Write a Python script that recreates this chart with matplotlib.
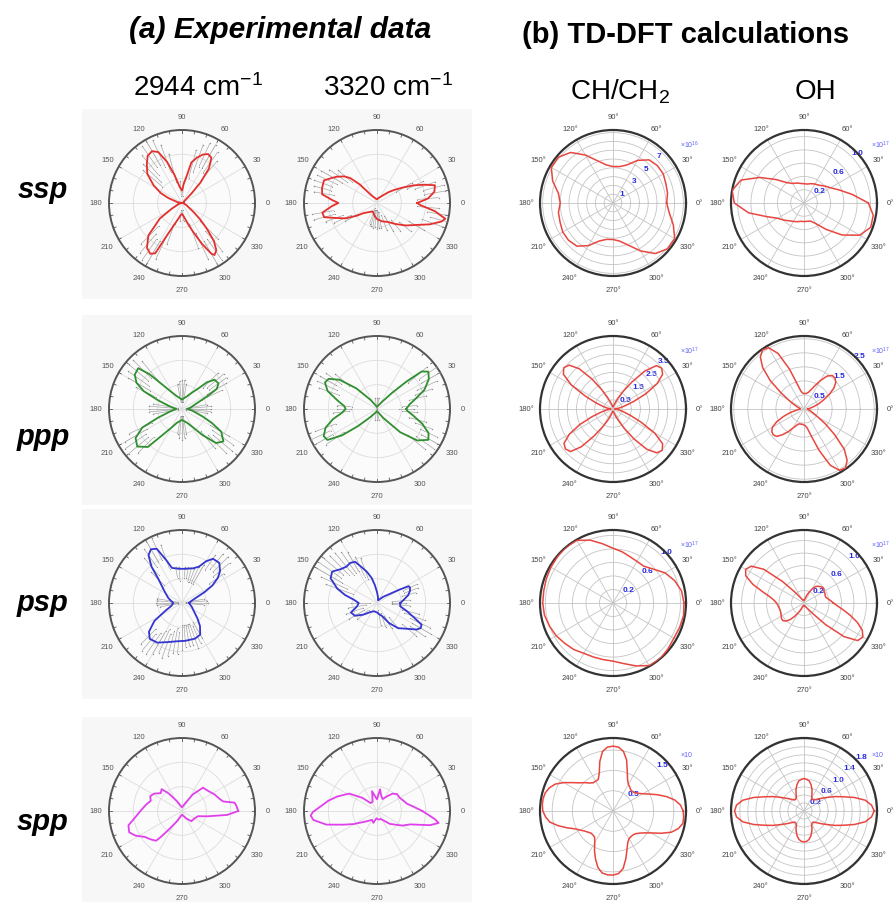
import numpy as np
import matplotlib
matplotlib.use("Agg")
import matplotlib.pyplot as plt
from matplotlib.patches import Rectangle

plt.rcParams['font.family'] = ['Liberation Sans', 'DejaVu Sans']
plt.rcParams['mathtext.fontset'] = 'custom'
plt.rcParams['mathtext.rm'] = 'Liberation Sans'
plt.rcParams['mathtext.it'] = 'Liberation Sans:italic'
plt.rcParams['mathtext.bf'] = 'Liberation Sans:bold'

W, H = 894, 903

# ---------------- experimental curves (angle in deg, r as fraction of outer ring)
th_ssp_2944 = [0, 10, 20, 30, 40, 45, 48, 52, 57, 62, 67, 72, 77, 80, 85, 90, 98, 105, 110, 115,
               120, 126, 132, 140, 148, 155, 160, 170, 180, 190, 200, 209, 215, 224, 232, 238, 242,
               245, 250, 257, 265, 270, 275, 281, 287, 291, 296, 300, 302, 306, 310, 314, 318, 322,
               333, 345, 355]
r_ssp_2944 = [0.0, 0.02, 0.03, 0.03, 0.04, 0.18, 0.38, 0.6, 0.74, 0.76, 0.72, 0.65, 0.57, 0.38, 0.26,
              0.17, 0.22, 0.4, 0.6, 0.77, 0.82, 0.8, 0.72, 0.62, 0.46, 0.32, 0.2, 0.06, 0.0, 0.03,
              0.06, 0.16, 0.37, 0.64, 0.78, 0.82, 0.78, 0.5, 0.32, 0.22, 0.16, 0.15, 0.17, 0.22, 0.32,
              0.42, 0.62, 0.8, 0.84, 0.8, 0.68, 0.49, 0.33, 0.2, 0.07, 0.03, 0.01]

th_ssp_3320 = [0, 5, 11, 17, 21, 26, 31, 37, 43, 57, 75, 90, 110, 125, 133, 137, 141, 147, 152, 157,
               165, 171, 176, 180, 184, 190, 195, 200, 206, 212, 217, 230, 243, 260, 270, 285, 300,
               311, 322, 331, 338, 344, 347, 352, 357]
r_ssp_3320 = [0.55, 0.7, 0.8, 0.83, 0.7, 0.55, 0.41, 0.3, 0.22, 0.11, 0.07, 0.05, 0.07, 0.12, 0.35,
              0.5, 0.58, 0.66, 0.72, 0.79, 0.78, 0.76, 0.62, 0.53, 0.62, 0.76, 0.75, 0.6, 0.48, 0.33,
              0.23, 0.16, 0.13, 0.18, 0.22, 0.26, 0.3, 0.38, 0.5, 0.62, 0.78, 0.92, 0.96, 0.8, 0.6]

th_ppp_2944 = [0, 10, 20, 27, 30, 35, 42, 47, 52, 60, 70, 90, 110, 120, 128, 133, 137, 144, 150, 155,
               160, 167, 180, 193, 200, 205, 212, 220, 228, 233, 240, 250, 270, 290, 300, 308, 315,
               322, 330, 335, 340, 350]
r_ppp_2944 = [0.08, 0.12, 0.2, 0.4, 0.55, 0.61, 0.6, 0.5, 0.35, 0.25, 0.18, 0.13, 0.18, 0.25, 0.4,
              0.65, 0.82, 0.8, 0.72, 0.58, 0.35, 0.18, 0.08, 0.18, 0.35, 0.6, 0.75, 0.8, 0.7, 0.45,
              0.3, 0.2, 0.15, 0.2, 0.28, 0.45, 0.66, 0.72, 0.62, 0.45, 0.3, 0.15]

th_ppp_3320 = [0, 8, 15, 22, 30, 36, 40, 43, 47, 55, 70, 90, 110, 125, 135, 142, 148, 153, 160, 168,
               175, 180, 186, 193, 200, 207, 212, 217, 222, 230, 250, 270, 290, 305, 315, 322, 329,
               335, 342, 350, 356]
r_ppp_3320 = [0.4, 0.45, 0.55, 0.7, 0.82, 0.87, 0.8, 0.55, 0.3, 0.12, 0.05, 0.03, 0.05, 0.15, 0.4,
              0.65, 0.78, 0.8, 0.72, 0.55, 0.45, 0.43, 0.48, 0.62, 0.75, 0.82, 0.8, 0.6, 0.35, 0.15,
              0.05, 0.03, 0.05, 0.15, 0.45, 0.7, 0.82, 0.78, 0.65, 0.5, 0.42]

th_psp_2944 = [0, 10, 20, 26, 30, 35, 40, 47, 55, 60, 65, 72, 85, 95, 106, 110, 115, 120, 125, 130,
               135, 145, 160, 180, 195, 205, 213, 221, 228, 238, 250, 262, 275, 290, 300, 308, 315,
               325, 340, 350]
r_psp_2944 = [0.1, 0.12, 0.2, 0.35, 0.48, 0.6, 0.68, 0.75, 0.74, 0.66, 0.55, 0.5, 0.47, 0.47, 0.5,
              0.62, 0.82, 0.85, 0.8, 0.65, 0.45, 0.3, 0.2, 0.12, 0.15, 0.25, 0.45, 0.6, 0.66, 0.64,
              0.57, 0.53, 0.52, 0.52, 0.5, 0.4, 0.3, 0.2, 0.14, 0.11]

th_psp_3320 = [0, 7, 14, 20, 25, 28, 31, 35, 45, 60, 70, 80, 90, 97, 102, 108, 113, 118, 124, 130,
               137, 145, 152, 160, 166, 172, 180, 190, 200, 210, 220, 235, 250, 270, 285, 291, 301,
               310, 320, 326, 330, 334, 338, 345, 352]
r_psp_3320 = [0.32, 0.37, 0.44, 0.48, 0.5, 0.49, 0.35, 0.22, 0.12, 0.05, 0.04, 0.08, 0.15, 0.25, 0.35,
              0.45, 0.53, 0.64, 0.66, 0.65, 0.68, 0.75, 0.72, 0.58, 0.45, 0.32, 0.25, 0.28, 0.38,
              0.35, 0.25, 0.15, 0.12, 0.13, 0.17, 0.19, 0.32, 0.45, 0.55, 0.65, 0.69, 0.68, 0.56,
              0.42, 0.32]

th_spp_2944 = [0, 5, 9, 13, 18, 27, 38, 48, 57, 70, 90, 117, 127, 133, 140, 148, 155, 162, 170, 180,
               188, 195, 202, 208, 215, 222, 229, 231, 235, 245, 270, 300, 313, 330, 342, 348, 351, 355]
r_spp_2944 = [0.77, 0.75, 0.73, 0.58, 0.54, 0.5, 0.45, 0.43, 0.27, 0.1, 0.05, 0.15, 0.3, 0.41, 0.38,
              0.45, 0.48, 0.45, 0.5, 0.57, 0.65, 0.76, 0.78, 0.72, 0.62, 0.58, 0.54, 0.45, 0.3, 0.15,
              0.05, 0.12, 0.19, 0.2, 0.23, 0.35, 0.43, 0.62]

th_spp_3320 = [0, 7, 14, 21, 30, 40, 48, 55, 65, 75, 82, 90, 97, 104, 115, 129, 138, 148, 160, 168,
               175, 181, 184, 188, 195, 202, 209, 225, 240, 253, 265, 280, 295, 315, 330, 338, 345,
               349, 352, 356]
r_spp_3320 = [0.62, 0.5, 0.42, 0.39, 0.36, 0.36, 0.32, 0.25, 0.18, 0.22, 0.3, 0.16, 0.2, 0.28, 0.14,
              0.14, 0.27, 0.45, 0.58, 0.68, 0.77, 0.88, 0.91, 0.88, 0.72, 0.5, 0.37, 0.2, 0.14, 0.17,
              0.1, 0.12, 0.12, 0.25, 0.4, 0.49, 0.75, 0.86, 0.8, 0.7]

# ---------------- error bars of the measured points (angle, low, high)
eb_th_ssp_2944 = [50, 55, 60, 65, 70, 75, 85, 95, 105, 110, 115, 120, 125, 130, 135, 140, 225, 230,
                  235, 240, 245, 250, 265, 275, 290, 295, 300, 305, 310, 315]
eb_lo_ssp_2944 = [0.4, 0.5, 0.55, 0.55, 0.45, 0.35, 0.1, 0.1, 0.3, 0.45, 0.55, 0.6, 0.6, 0.5, 0.4,
                  0.35, 0.45, 0.55, 0.6, 0.6, 0.45, 0.3, 0.1, 0.1, 0.3, 0.45, 0.6, 0.6, 0.5, 0.35]
eb_hi_ssp_2944 = [0.75, 0.85, 0.92, 0.9, 0.85, 0.75, 0.3, 0.3, 0.7, 0.85, 0.95, 0.98, 0.95, 0.85,
                  0.75, 0.7, 0.8, 0.9, 0.95, 0.95, 0.85, 0.6, 0.25, 0.25, 0.65, 0.85, 0.97, 0.95,
                  0.85, 0.7]

eb_th_ssp_3320 = [5, 10, 15, 20, 25, 30, 140, 145, 150, 155, 160, 165, 170, 190, 195, 200, 205, 210,
                  250, 255, 260, 265, 270, 275, 280, 290, 300, 310, 320, 330, 340, 345, 350, 355]
eb_lo_ssp_3320 = [0.55, 0.65, 0.65, 0.55, 0.45, 0.3, 0.45, 0.5, 0.55, 0.6, 0.65, 0.65, 0.6, 0.6, 0.6,
                  0.5, 0.4, 0.3, 0.08, 0.1, 0.1, 0.1, 0.1, 0.12, 0.12, 0.18, 0.2, 0.3, 0.4, 0.5, 0.65,
                  0.75, 0.7, 0.55]
eb_hi_ssp_3320 = [0.85, 0.95, 0.95, 0.85, 0.7, 0.55, 0.7, 0.8, 0.88, 0.9, 0.92, 0.9, 0.88, 0.9, 0.9,
                  0.75, 0.65, 0.5, 0.3, 0.33, 0.35, 0.33, 0.35, 0.35, 0.35, 0.4, 0.45, 0.5, 0.6, 0.75,
                  0.95, 1.0, 0.95, 0.85]

eb_th_ppp_2944 = [0, 5, 10, 25, 30, 35, 40, 45, 80, 85, 90, 95, 100, 130, 135, 140, 145, 150, 155,
                  170, 175, 180, 185, 190, 205, 210, 215, 220, 225, 260, 265, 270, 275, 280, 310,
                  315, 320, 325, 330, 350, 355]
eb_lo_ppp_2944 = [0.05, 0.05, 0.05, 0.3, 0.4, 0.45, 0.45, 0.4, 0.1, 0.1, 0.1, 0.1, 0.1, 0.45, 0.6,
                  0.6, 0.55, 0.5, 0.4, 0.05, 0.05, 0.05, 0.05, 0.05, 0.45, 0.55, 0.6, 0.6, 0.55, 0.1,
                  0.1, 0.1, 0.1, 0.1, 0.4, 0.5, 0.55, 0.5, 0.45, 0.05, 0.05]
eb_hi_ppp_2944 = [0.4, 0.4, 0.35, 0.6, 0.7, 0.75, 0.75, 0.7, 0.35, 0.4, 0.4, 0.38, 0.35, 0.85, 0.95,
                  0.95, 0.9, 0.85, 0.7, 0.4, 0.45, 0.45, 0.45, 0.4, 0.8, 0.9, 0.95, 0.95, 0.85, 0.35,
                  0.4, 0.42, 0.4, 0.35, 0.7, 0.85, 0.9, 0.85, 0.75, 0.35, 0.4]

eb_th_ppp_3320 = [0, 5, 15, 20, 25, 30, 35, 40, 80, 90, 100, 140, 145, 150, 155, 160, 175, 180, 185,
                  200, 205, 210, 215, 260, 270, 280, 320, 325, 330, 335, 340, 345, 355]
eb_lo_ppp_3320 = [0.3, 0.35, 0.45, 0.55, 0.6, 0.7, 0.7, 0.55, 0.0, 0.0, 0.0, 0.5, 0.6, 0.65, 0.6,
                  0.55, 0.35, 0.35, 0.38, 0.6, 0.7, 0.7, 0.55, 0.0, 0.0, 0.0, 0.55, 0.65, 0.7, 0.65,
                  0.55, 0.45, 0.35]
eb_hi_ppp_3320 = [0.5, 0.55, 0.7, 0.8, 0.9, 1.0, 1.0, 0.9, 0.15, 0.15, 0.15, 0.75, 0.85, 0.9, 0.9,
                  0.85, 0.55, 0.55, 0.6, 0.9, 1.0, 1.0, 0.85, 0.15, 0.15, 0.15, 0.85, 0.95, 0.95, 0.9,
                  0.8, 0.7, 0.55]

eb_th_psp_2944 = [0, 5, 10, 35, 40, 45, 50, 55, 60, 65, 70, 75, 80, 85, 95, 100, 110, 115, 120, 125,
                  130, 135, 170, 175, 180, 185, 190, 225, 230, 235, 240, 245, 250, 255, 260, 265,
                  270, 275, 280, 285, 290, 295, 300, 355]
eb_lo_psp_2944 = [0.05, 0.05, 0.05, 0.45, 0.55, 0.6, 0.6, 0.55, 0.3, 0.3, 0.3, 0.3, 0.35, 0.35, 0.3,
                  0.35, 0.5, 0.65, 0.65, 0.6, 0.5, 0.35, 0.05, 0.05, 0.05, 0.05, 0.05, 0.5, 0.55,
                  0.5, 0.45, 0.4, 0.45, 0.4, 0.35, 0.4, 0.3, 0.3, 0.3, 0.3, 0.3, 0.35, 0.3, 0.05]
eb_hi_psp_2944 = [0.35, 0.35, 0.3, 0.7, 0.85, 0.9, 0.88, 0.8, 0.6, 0.55, 0.5, 0.5, 0.5, 0.5, 0.5,
                  0.5, 0.85, 0.98, 0.98, 0.9, 0.8, 0.6, 0.35, 0.35, 0.35, 0.35, 0.3, 0.8, 0.85, 0.85,
                  0.8, 0.75, 0.8, 0.75, 0.7, 0.7, 0.65, 0.6, 0.6, 0.6, 0.65, 0.6, 0.55, 0.3]

eb_th_psp_3320 = [0, 5, 15, 20, 25, 110, 115, 120, 125, 130, 135, 140, 145, 150, 155, 160, 180, 190,
                  200, 210, 220, 280, 290, 300, 310, 320, 325, 330, 335, 340, 345, 355]
eb_lo_psp_3320 = [0.2, 0.2, 0.35, 0.4, 0.4, 0.35, 0.4, 0.5, 0.5, 0.5, 0.55, 0.6, 0.6, 0.55, 0.45,
                  0.35, 0.1, 0.15, 0.2, 0.2, 0.15, 0.1, 0.15, 0.2, 0.25, 0.45, 0.55, 0.55, 0.5, 0.4,
                  0.35, 0.2]
eb_hi_psp_3320 = [0.4, 0.45, 0.55, 0.6, 0.6, 0.65, 0.7, 0.8, 0.85, 0.9, 0.92, 0.95, 0.98, 0.95, 0.85,
                  0.75, 0.35, 0.4, 0.45, 0.45, 0.35, 0.3, 0.35, 0.4, 0.45, 0.7, 0.8, 0.85, 0.8, 0.7,
                  0.6, 0.45]

# ---------------- TD-DFT curves
th10 = list(range(0, 360, 10))
th5 = list(range(0, 360, 5))

r_ch_ssp = [6.1, 6.3, 6.4, 6.6, 6.6, 6.4, 5.6, 4.6, 4.2, 4.15, 4.4, 5.1, 6.3, 7.5, 8.1, 8.1, 7.3, 6.3,
            6.0, 6.3, 6.4, 6.6, 6.6, 6.4, 5.6, 4.6, 4.2, 4.15, 4.4, 5.1, 6.3, 7.5, 8.1, 8.1, 7.3, 6.5]
r_oh_ssp = [0.97, 0.74, 0.57, 0.46, 0.40, 0.35, 0.33, 0.31, 0.29, 0.29, 0.30, 0.32, 0.34, 0.40, 0.55,
            0.77, 1.01, 1.1, 1.05, 0.85, 0.6, 0.46, 0.40, 0.35, 0.32, 0.30, 0.28, 0.28, 0.28, 0.29,
            0.36, 0.52, 0.75, 0.97, 1.07, 1.06]
r_ch_ppp = [0.12, 0.2, 0.4, 0.68, 1.2, 2.0, 2.8, 3.32, 3.48, 3.36, 2.72, 1.8, 1.12, 0.68, 0.4, 0.24,
            0.16, 0.12, 0.12, 0.12, 0.16, 0.24, 0.4, 0.68, 1.2, 2.0, 2.88, 3.4, 3.52, 3.32, 2.64, 1.68,
            1.0, 0.6, 0.36, 0.2,
            0.12, 0.2, 0.4, 0.68, 1.2, 2.0, 2.76, 3.28, 3.4, 3.3, 2.7, 1.8, 1.12, 0.68, 0.4, 0.24,
            0.16, 0.12, 0.12, 0.12, 0.16, 0.24, 0.4, 0.68, 1.2, 2.0, 2.88, 3.4, 3.52, 3.32, 2.64, 1.68,
            1.0, 0.6, 0.36, 0.2]
r_oh_ppp = [0.13, 0.18, 0.26, 0.39, 0.57, 0.78, 1.04, 1.3, 1.48, 1.56, 1.56, 1.43, 1.17, 0.91, 0.73,
            0.62, 0.57, 0.55, 0.55, 0.57, 0.65, 0.91, 1.51, 2.18, 2.52, 2.57, 2.42, 2.08, 1.56, 0.99,
            0.62, 0.42, 0.29, 0.21, 0.16, 0.13,
            0.13, 0.18, 0.31, 0.52, 0.78, 1.07, 1.3, 1.4, 1.43, 1.38, 1.2, 0.99, 0.78, 0.65, 0.57,
            0.55, 0.55, 0.55, 0.57, 0.6, 0.7, 0.99, 1.56, 2.21, 2.52, 2.57, 2.39, 2.03, 1.43, 0.94,
            0.57, 0.39, 0.29, 0.21, 0.16, 0.13]
r_ch_psp = [1.05, 1.03, 0.97, 0.89, 0.78, 0.71, 0.71, 0.73, 0.77, 0.81, 0.89, 0.99, 1.07, 1.08, 1.07,
            1.06, 1.05, 1.04, 1.04, 1.03, 1.0, 0.97, 0.93, 0.9, 0.86, 0.85, 0.85, 0.86, 0.91, 0.99,
            1.07, 1.08, 1.06, 1.04, 1.05, 1.06]
r_oh_psp = [0.47, 0.43, 0.39, 0.36, 0.36, 0.37, 0.37, 0.39, 0.39, 0.37, 0.35, 0.32, 0.26, 0.19, 0.13,
            0.08, 0.06, 0.05, 0.04, 0.04, 0.04, 0.05, 0.05, 0.06, 0.08, 0.12, 0.23, 0.49, 0.84, 1.03,
            1.08, 1.03, 0.87, 0.68, 0.55, 0.48,
            0.44, 0.42, 0.41, 0.4, 0.4, 0.41, 0.42, 0.44, 0.44, 0.41, 0.35, 0.26, 0.18, 0.12, 0.07,
            0.05, 0.04, 0.04, 0.04, 0.04, 0.05, 0.05, 0.06, 0.07, 0.09, 0.13, 0.23, 0.49, 0.84, 1.05,
            1.09, 1.03, 0.91, 0.77, 0.64, 0.54]
r_ch_spp = [1.73, 1.67, 1.55, 1.37, 1.17, 0.99, 0.85, 0.76, 0.7, 0.68, 0.68, 0.72, 0.76, 0.85, 1.03,
            1.3, 1.49, 1.58, 1.6, 1.58, 1.49, 1.26, 0.99, 0.86, 0.85, 0.85, 0.9, 0.99, 1.08, 1.22,
            1.4, 1.57, 1.67, 1.73, 1.75, 1.75,
            1.73, 1.67, 1.58, 1.4, 1.21, 1.04, 0.94, 0.86, 0.81, 0.77, 0.77, 0.79, 0.9, 1.08, 1.26,
            1.44, 1.55, 1.58, 1.58, 1.55, 1.44, 1.22, 1.01, 0.86, 0.79, 0.77, 0.77, 0.79, 0.85, 0.94,
            1.08, 1.3, 1.53, 1.67, 1.75, 1.75]
r_oh_spp = [1.75, 1.69, 1.55, 1.3, 1.04, 0.85, 0.68, 0.56, 0.47, 0.4, 0.36, 0.36, 0.38, 0.47, 0.58,
            0.68, 0.76, 0.79, 0.81, 0.79, 0.76, 0.68, 0.58, 0.47, 0.38, 0.36, 0.36, 0.4, 0.47, 0.56,
            0.68, 0.85, 1.04, 1.3, 1.55, 1.69,
            1.73, 1.69, 1.55, 1.3, 1.04, 0.85, 0.68, 0.56, 0.47, 0.4, 0.36, 0.36, 0.38, 0.47, 0.56,
            0.65, 0.72, 0.76, 0.77, 0.76, 0.72, 0.65, 0.56, 0.47, 0.38, 0.36, 0.36, 0.4, 0.47, 0.56,
            0.68, 0.85, 1.04, 1.3, 1.55, 1.69]

rows = ['ssp', 'ppp', 'psp', 'spp']
exp_colors = ['#e3302d', '#2f8f2f', '#3434d0', '#e040ec']

fig = plt.figure(figsize=(W / 100, H / 100), dpi=100)

row_y = [204, 410, 604, 812]
col_x = [182, 377, 613, 804]
RAD = 73


def polar_axes(cx, cy):
    ax = fig.add_axes([(cx - RAD) / W, 1 - (cy + RAD) / H, 2 * RAD / W, 2 * RAD / H],
                      projection='polar')
    ax.set_zorder(2)
    return ax


def exp_panel(ax, th, r, color, eb=None):
    t = np.radians(th + th[:1])
    ax.set_facecolor('#fbfbfb')
    if eb is not None:
        eth, elo, ehi = eb
        et = np.radians(eth)
        ax.vlines(et, elo, ehi, color='#a8a8a8', lw=0.5, zorder=3)
        ax.plot(et, ehi, 'o', ms=1.0, mew=0, color='#909090', zorder=3)
        ax.plot(et, elo, 'o', ms=0.8, mew=0, color='#909090', zorder=3)
    ax.plot(t, r + r[:1], color=color, lw=1.3, zorder=4)
    ax.set_ylim(0, 1)
    ax.set_yticks([1 / 3, 2 / 3])
    ax.set_yticklabels([])
    ax.set_thetagrids(range(0, 360, 30), labels=[str(a) for a in range(0, 360, 30)])
    ax.tick_params(axis='x', labelsize=5.5, labelcolor='#555555', pad=-1)
    ax.grid(True, color='#dcdcdc', lw=0.6)
    ax.spines['polar'].set_color('#555555')
    ax.spines['polar'].set_linewidth(1.4)
    for a in np.radians(np.arange(0, 360, 10)):
        ax.plot([a, a], [0.96, 1.0], color='#555555', lw=0.6, clip_on=False)


def dft_panel(ax, th, r, rmax, rings, labels, expo):
    t = np.radians(th + th[:1])
    ax.plot(t, r + r[:1], color='#e8463f', lw=1.1, zorder=4)
    ax.set_ylim(0, rmax)
    ax.set_yticks(rings)
    ax.set_yticklabels(labels, fontsize=6, color='#2828e0', fontweight='bold')
    ax.set_rlabel_position(45)
    ax.set_thetagrids(range(0, 360, 30), labels=[f'{a}°' for a in range(0, 360, 30)])
    ax.tick_params(axis='x', labelsize=5.5, labelcolor='#444444', pad=-1)
    ax.grid(True, color='#c4c4c4', lw=0.6)
    ax.spines['polar'].set_color('#333333')
    ax.spines['polar'].set_linewidth(1.6)
    ax.text(0.96, 0.88, expo, transform=ax.transAxes, color='#6060ff', fontsize=5)


# light panels behind experimental plots
for cy in row_y:
    for cx in col_x[:2]:
        fig.patches.append(Rectangle(((cx - 100) / W, 1 - (cy + 96) / H), 195 / W, 190 / H,
                                     transform=fig.transFigure, facecolor='#f7f7f7',
                                     edgecolor='none', zorder=-1))

exp_data = [(th_ssp_2944, r_ssp_2944, (eb_th_ssp_2944, eb_lo_ssp_2944, eb_hi_ssp_2944),
             th_ssp_3320, r_ssp_3320, (eb_th_ssp_3320, eb_lo_ssp_3320, eb_hi_ssp_3320)),
            (th_ppp_2944, r_ppp_2944, (eb_th_ppp_2944, eb_lo_ppp_2944, eb_hi_ppp_2944),
             th_ppp_3320, r_ppp_3320, (eb_th_ppp_3320, eb_lo_ppp_3320, eb_hi_ppp_3320)),
            (th_psp_2944, r_psp_2944, (eb_th_psp_2944, eb_lo_psp_2944, eb_hi_psp_2944),
             th_psp_3320, r_psp_3320, (eb_th_psp_3320, eb_lo_psp_3320, eb_hi_psp_3320)),
            (th_spp_2944, r_spp_2944, None, th_spp_3320, r_spp_3320, None)]

for i, (ta, ra, ea, tb, rb, eb) in enumerate(exp_data):
    exp_panel(polar_axes(col_x[0], row_y[i]), ta, ra, exp_colors[i], ea)
    exp_panel(polar_axes(col_x[1], row_y[i]), tb, rb, exp_colors[i], eb)

# TD-DFT column
dft_panel(polar_axes(col_x[2], row_y[0]), th10, r_ch_ssp, 8.3, [1, 2, 3, 4, 5, 6, 7, 8],
          ['1', '', '3', '', '5', '', '7', ''], r'×10$^{16}$')
dft_panel(polar_axes(col_x[3], row_y[0]), th10, r_oh_ssp, 1.1, [0.2, 0.4, 0.6, 0.8, 1.0],
          ['0.2', '', '0.6', '', '1.0'], r'×10$^{17}$')
dft_panel(polar_axes(col_x[2], row_y[1]), th5, r_ch_ppp, 4.0, [0.5, 1.0, 1.5, 2.0, 2.5, 3.0, 3.5],
          ['0.5', '', '1.5', '', '2.5', '', '3.5'], r'×10$^{17}$')
dft_panel(polar_axes(col_x[3], row_y[1]), th5, r_oh_ppp, 2.6, [0.5, 1.0, 1.5, 2.0, 2.5],
          ['0.5', '', '1.5', '', '2.5'], r'×10$^{17}$')
dft_panel(polar_axes(col_x[2], row_y[2]), th10, r_ch_psp, 1.08, [0.2, 0.4, 0.6, 0.8, 1.0],
          ['0.2', '', '0.6', '', '1.0'], r'×10$^{17}$')
dft_panel(polar_axes(col_x[3], row_y[2]), th5, r_oh_psp, 1.17, [0.2, 0.4, 0.6, 0.8, 1.0],
          ['0.2', '', '0.6', '', '1.0'], r'×10$^{17}$')
dft_panel(polar_axes(col_x[2], row_y[3]), th5, r_ch_spp, 1.8, [0.5, 1.0, 1.5],
          ['0.5', '', '1.5'], '×10')
dft_panel(polar_axes(col_x[3], row_y[3]), th5, r_oh_spp, 1.82,
          [0.2, 0.4, 0.6, 0.8, 1.0, 1.2, 1.4, 1.6, 1.8],
          ['0.2', '', '0.6', '', '1.0', '', '1.4', '', '1.8'], '×10')

# titles and labels
fig.text(280 / W, 1 - 30 / H, '(a) Experimental data', ha='center', va='center',
         fontsize=21.5, fontweight='bold', style='italic')
fig.text(686 / W, 1 - 35 / H, '(b) TD-DFT calculations', ha='center', va='center',
         fontsize=21, fontweight='bold')
for x, y, s in [(198, 88, '2944 cm$^{-1}$'), (388, 88, '3320 cm$^{-1}$'),
                (620, 92, 'CH/CH$_2$'), (815, 92, 'OH')]:
    fig.text(x / W, 1 - y / H, s, ha='center', va='center', fontsize=20)
for y, s in zip([190, 437, 603, 822], rows):
    fig.text(43 / W, 1 - y / H, s, ha='center', va='center', fontsize=21,
             fontweight='bold', style='italic')

fig.savefig('out.png', dpi=100, facecolor='white')
